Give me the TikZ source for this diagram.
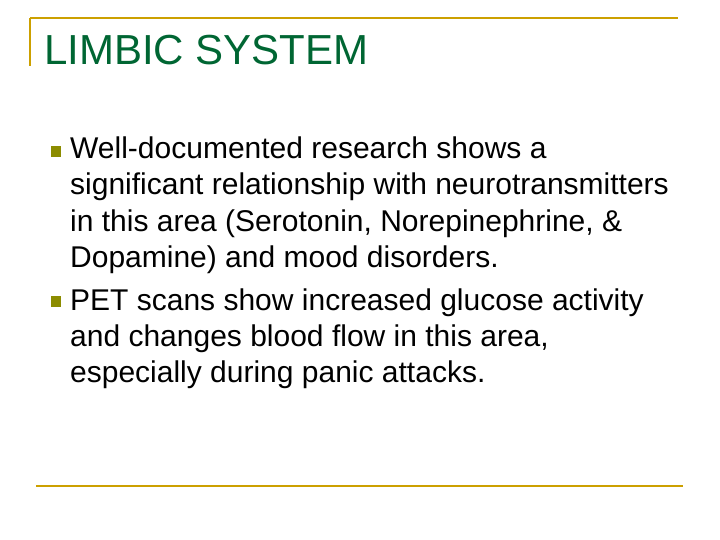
\documentclass[tikz,border=0pt]{standalone}
\usepackage{fontspec}
\setmainfont{Liberation Sans}
\definecolor{gold}{RGB}{204,160,0}
\definecolor{ttl}{RGB}{0,102,51}
\definecolor{bul}{RGB}{140,140,0}
\begin{document}
\begin{tikzpicture}[x=1pt,y=-1pt,
  txt/.style={anchor=base west,inner sep=0pt,font=\fontsize{30}{34}\selectfont},
  bx/.style={fill=bul,draw=none}]
\useasboundingbox (0,0) rectangle (720,540);
\draw[gold,line width=2pt] (30,18) -- (678,18);
\draw[gold,line width=2pt] (30,18) -- (30,66);
\draw[gold,line width=2pt] (36,486) -- (683,486);
\node[anchor=base west,inner sep=0pt,text=ttl,font=\fontsize{42}{44}\selectfont] (title) at (44,65) {LIMBIC SYSTEM};
\fill[bul] (51,146) rectangle (61,157);
\fill[bul] (51,296) rectangle (61,307);
\node[txt] (l1) at (70,159) {Well-documented research shows a};
\node[txt] (l2) at (70,195) {significant relationship with neurotransmitters};
\node[txt] (l3) at (70,231) {in this area (Serotonin, Norepinephrine, \&};
\node[txt] (l4) at (70,267) {Dopamine) and mood disorders.};
\node[txt] (l5) at (70,310) {PET scans show increased glucose activity};
\node[txt] (l6) at (70,346) {and changes blood flow in this area,};
\node[txt] (l7) at (70,382) {especially during panic attacks.};
\end{tikzpicture}
\end{document}
